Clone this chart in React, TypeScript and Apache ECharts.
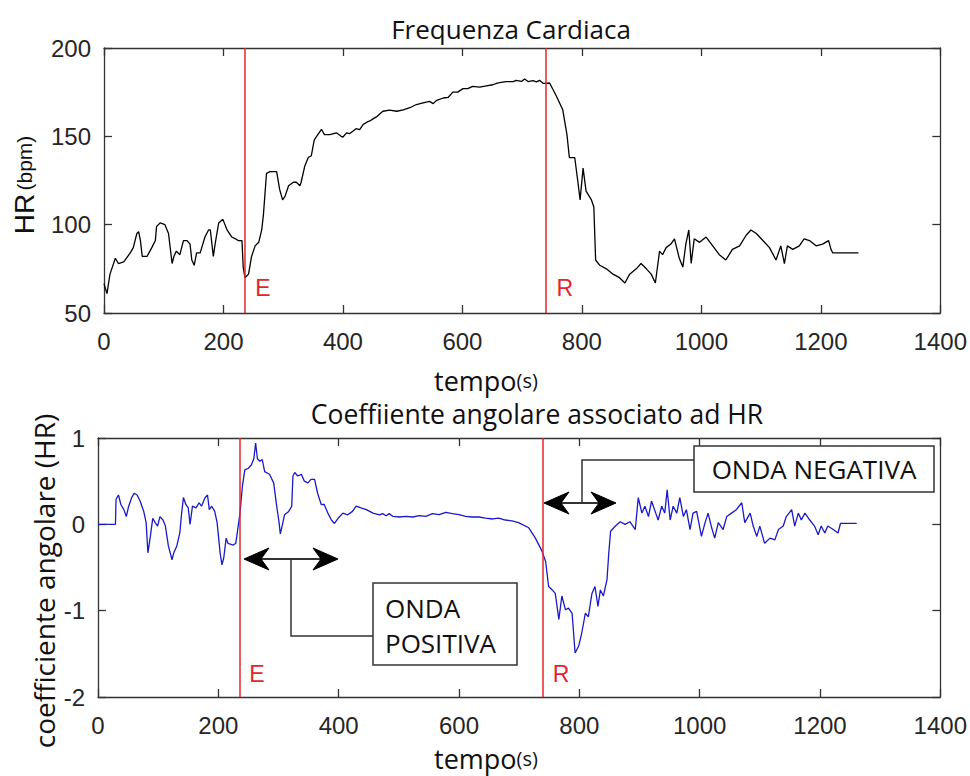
import React, { useEffect, useRef } from "react";
import * as echarts from "echarts";

// ---------- data ----------
const xTickValues = [0, 200, 400, 600, 800, 1000, 1200, 1400];

const hrTime = [0, 5, 10, 19, 24, 33, 44, 49, 55, 58, 61, 64, 72, 80, 86, 88, 94, 102, 108, 114, 117, 121, 127, 133, 139, 144, 147, 151, 155, 161, 169, 175, 178, 183, 186, 192, 199, 206, 214, 220, 225, 231, 233, 236, 242, 247, 253, 259, 264, 267, 272, 278, 289, 294, 299, 303, 309, 317, 322, 328, 330, 336, 342, 347, 352, 358, 364, 369, 378, 389, 397, 400, 406, 411, 417, 422, 428, 434, 440, 445, 451, 456, 462, 467, 478, 490, 501, 512, 523, 534, 545, 551, 557, 568, 576, 584, 592, 601, 609, 617, 629, 640, 651, 657, 662, 673, 685, 690, 699, 704, 710, 718, 724, 729, 735, 740, 746, 757, 768, 775, 779, 788, 793, 797, 802, 807, 816, 820, 823, 830, 841, 852, 863, 872, 880, 891, 899, 908, 916, 923, 930, 935, 941, 949, 955, 963, 969, 974, 979, 983, 988, 997, 1008, 1019, 1030, 1041, 1052, 1064, 1075, 1083, 1092, 1103, 1114, 1125, 1133, 1139, 1144, 1153, 1164, 1172, 1181, 1192, 1203, 1213, 1217, 1220, 1263];
const hrValue = [66.6, 61, 72, 81, 78, 79, 84, 87, 95, 96, 91, 82, 82, 87, 91, 99, 101, 100, 95, 78, 82, 85, 83, 91, 91, 89, 80, 77, 84, 84, 93, 97, 97, 82, 89, 101, 103, 97, 93, 92, 91, 91, 76, 70, 72, 82, 88, 90, 97, 106, 129, 130, 130, 120, 114, 116, 122, 124, 124, 122, 124, 133, 138, 139, 148, 151, 154, 151, 151, 152, 150, 149.6, 152, 151.5, 153, 154.3, 153.8, 156.8, 158, 158.7, 160, 161, 162.8, 164.2, 164.8, 164.2, 165, 166.2, 168, 168.9, 169.8, 168.5, 170.4, 171.7, 172, 175, 175, 177, 177, 178.3, 177.8, 178.6, 179.2, 180, 180.4, 181, 181, 181.7, 181.1, 182.5, 181, 181.5, 180.8, 181.7, 180, 180, 180.2, 173, 165, 151, 138, 138, 125, 114, 132, 119, 114, 110, 80, 77, 75, 72, 70, 67, 72, 75, 78, 75, 72, 67, 85, 83, 87, 89, 92, 81, 76, 89, 97, 78, 92, 90, 93, 88, 83, 80, 86, 88, 94, 97, 95, 91, 87, 80, 88, 78, 88, 86, 88, 92, 91, 88, 89, 91, 86, 84, 84];

const slopeTime = [0, 29, 30, 34, 38, 43, 47, 51, 56, 60, 65, 70, 76, 80, 83, 87, 91, 95, 99, 103, 108, 112, 117, 123, 126, 131, 136, 139, 142, 146, 150, 153, 157, 163, 168, 172, 178, 182, 185, 189, 194, 198, 203, 206, 209, 213, 216, 225, 229, 233, 236, 240, 244, 250, 255, 259, 262, 265, 269, 273, 277, 285, 292, 297, 301, 303, 306, 310, 317, 322, 324, 327, 332, 338, 343, 349, 354, 360, 365, 371, 376, 382, 388, 393, 399, 407, 415, 423, 429, 437, 446, 457, 468, 473, 479, 484, 490, 501, 512, 523, 534, 545, 556, 567, 578, 589, 600, 611, 622, 633, 644, 656, 666, 677, 688, 699, 716, 727, 738, 744, 749, 755, 760, 766, 771, 777, 782, 788, 793, 799, 804, 810, 815, 821, 826, 831, 835, 840, 846, 849, 852, 860, 868, 876, 884, 893, 898, 904, 909, 915, 920, 926, 931, 937, 942, 946, 951, 956, 962, 967, 973, 978, 984, 989, 995, 1003, 1009, 1014, 1020, 1025, 1031, 1039, 1045, 1053, 1061, 1070, 1075, 1084, 1089, 1095, 1100, 1108, 1117, 1125, 1131, 1139, 1144, 1153, 1158, 1164, 1169, 1175, 1183, 1191, 1197, 1202, 1208, 1213, 1222, 1230, 1234, 1261];
const slopeValue = [0, 0, 0.29, 0.34, 0.23, 0.17, 0.09, 0.21, 0.31, 0.36, 0.34, 0.27, 0.15, 0.02, -0.33, -0.14, 0.07, 0.02, -0.02, 0.09, 0.05, -0.02, -0.25, -0.41, -0.33, -0.25, -0.1, 0.13, 0.31, 0.23, 0.19, 0.0, 0.21, 0.19, 0.25, 0.21, 0.31, 0.34, 0.17, 0.21, 0.15, 0.02, -0.33, -0.47, -0.39, -0.16, -0.22, -0.24, -0.22, -0.02, 0.13, 0.44, 0.63, 0.65, 0.69, 0.76, 0.94, 0.76, 0.73, 0.75, 0.61, 0.58, 0.48, 0.21, 0.02, -0.11, -0.02, 0.11, 0.15, 0.21, 0.56, 0.6, 0.56, 0.58, 0.5, 0.48, 0.52, 0.52, 0.36, 0.23, 0.23, 0.13, 0.05, 0.01, 0.07, 0.13, 0.11, 0.15, 0.21, 0.19, 0.17, 0.13, 0.11, 0.124, 0.1, 0.124, 0.093, 0.085, 0.093, 0.085, 0.1, 0.093, 0.124, 0.112, 0.139, 0.124, 0.112, 0.093, 0.085, 0.085, 0.073, 0.062, 0.073, 0.05, 0.04, 0.02, -0.04, -0.16, -0.31, -0.43, -0.72, -0.76, -0.8, -1.1, -0.83, -0.99, -0.97, -1.03, -1.49, -1.41, -1.26, -1.03, -1.07, -0.8, -0.72, -0.95, -0.76, -0.83, -0.64, -0.33, -0.08, -0.02, 0.03, 0.0, 0.03, -0.06, 0.31, 0.13, 0.21, 0.09, 0.27, 0.15, 0.05, 0.21, 0.13, 0.4, 0.05, 0.21, 0.13, 0.31, 0.09, 0.17, -0.06, 0.13, 0.15, -0.14, 0.02, 0.13, -0.04, -0.16, 0.02, -0.06, 0.09, 0.13, 0.17, 0.25, 0.02, 0.13, -0.02, -0.14, -0.02, -0.22, -0.16, -0.18, -0.06, -0.02, 0.09, 0.17, -0.02, 0.13, 0.05, 0.13, 0.05, -0.02, -0.12, -0.02, -0.1, -0.02, -0.06, -0.1, 0.01, 0.01];

const eventTimes = [235, 739];
const eventLabels = ["E", "R"];

const topTitle = "Frequenza Cardiaca";
const bottomTitle = "Coeffiiente angolare associato ad HR";
const positiveLabel = ["ONDA", "POSITIVA"];
const negativeLabel = "ONDA NEGATIVA";

// ---------- layout ----------
const W = 970;
const H = 776;
const G1 = { left: 104, top: 48, width: 839, height: 265 };
const G2 = { left: 98, top: 438, width: 845, height: 259 };
const X_MAX = 1400;
const AX = "#333333";
const TICK_FONT = "Liberation Sans";
const TITLE_FONT = "Open Sans";

function xPix(g: typeof G1, t: number) {
  return g.left + (t / X_MAX) * g.width;
}

function boxAxes(gridIndex: number, isX: boolean, main: boolean, min: number, max: number, interval: number) {
  const base: any = {
    type: "value",
    gridIndex,
    min,
    max,
    interval,
    splitLine: { show: false },
    axisLine: { show: true, onZero: false, lineStyle: { color: AX, width: 1.3 } },
    axisTick: { show: true, inside: true, length: 8, lineStyle: { color: AX, width: 1.3 } },
    axisLabel: {
      show: main,
      fontFamily: TICK_FONT,
      fontSize: 24,
      color: "#262626",
      margin: isX ? 16 : 13,
      formatter: (v: number) => String(v),
    },
  };
  if (isX) base.position = main ? "bottom" : "top";
  else base.position = main ? "left" : "right";
  return base;
}

function arrowGraphics(x0: number, x1: number, y: number) {
  const hl = 25;
  const hw = 11;
  const notch = 17;
  return [
    {
      type: "line",
      shape: { x1: x0 + notch, y1: y, x2: x1 - notch, y2: y },
      style: { stroke: "#333", lineWidth: 2 },
    },
    {
      type: "polygon",
      shape: { points: [[x0, y], [x0 + hl, y - hw], [x0 + notch, y], [x0 + hl, y + hw]] },
      style: { fill: "#000", stroke: "#000", lineWidth: 1 },
    },
    {
      type: "polygon",
      shape: { points: [[x1, y], [x1 - hl, y - hw], [x1 - notch, y], [x1 - hl, y + hw]] },
      style: { fill: "#000", stroke: "#000", lineWidth: 1 },
    },
  ];
}

function txt(x: number, y: number, text: string, size: number, family: string, fill: string, align = "center", extra: any = {}) {
  return {
    type: "text",
    x,
    y,
    z: 100,
    ...extra,
    style: {
      text,
      fontSize: size,
      fontFamily: family,
      fill,
      align,
      textAlign: align,
      verticalAlign: "middle",
      textVerticalAlign: "middle",
    },
  };
}

export default function App() {
  const ref = useRef<HTMLDivElement>(null);

  useEffect(() => {
    if (!ref.current) return;
    const chart = echarts.init(ref.current, null, { renderer: "svg", width: W, height: H });

    const hrData = hrTime.map((t, i) => [t, hrValue[i]]);
    const slopeData = slopeTime.map((t, i) => [t, slopeValue[i]]);
    const eventLine = {
      silent: true,
      symbol: ["none", "none"],
      label: { show: false },
      lineStyle: { color: "#e3262b", width: 1.5, type: "solid" },
      emphasis: { disabled: true },
      data: eventTimes.map((t) => ({ xAxis: t })),
    };

    const tempoRich = {
      a: { fontSize: 27, fontFamily: TITLE_FONT, fill: "#111", color: "#111" },
      b: { fontSize: 20, fontFamily: TITLE_FONT, fill: "#111", color: "#111" },
    };
    const tempoStyle = { text: "{a|tempo}{b|(s)}", rich: tempoRich, align: "center", textAlign: "center", verticalAlign: "middle", textVerticalAlign: "middle" };

    const graphics: any[] = [
      txt(511, 29, topTitle, 26, TITLE_FONT, "#111"),
      txt(537, 414, bottomTitle, 26.5, TITLE_FONT, "#111"),
      { type: "text", x: 486, y: 380, z: 100, style: tempoStyle },
      { type: "text", x: 486, y: 758, z: 100, style: tempoStyle },
      {
        type: "text",
        x: 24,
        y: 185,
        rotation: Math.PI / 2,
        z: 100,
        style: {
          text: "{a|HR} {b|(bpm)}",
          rich: {
            a: { fontSize: 28, fontFamily: TICK_FONT, fill: "#111", color: "#111" },
            b: { fontSize: 21, fontFamily: TICK_FONT, fill: "#111", color: "#111" },
          },
          align: "center",
          textAlign: "center",
          verticalAlign: "middle",
          textVerticalAlign: "middle",
        },
      },
      txt(44, 581, "coefficiente angolare (HR)", 28, TITLE_FONT, "#111", "center", { rotation: Math.PI / 2 }),
    ];

    eventTimes.forEach((t, i) => {
      graphics.push(txt(xPix(G1, t) + 18, G1.top + G1.height - 25, eventLabels[i], 23, TICK_FONT, "#e3262b"));
      graphics.push(txt(xPix(G2, t) + 17, G2.top + G2.height - 23, eventLabels[i], 23, TICK_FONT, "#e3262b"));
    });

    // ONDA POSITIVA annotation
    graphics.push(...arrowGraphics(244, 338, 559));
    graphics.push({ type: "polyline", shape: { points: [[291, 559], [291, 636], [373, 636]] }, style: { stroke: "#333", lineWidth: 1.5, fill: "none" } });
    graphics.push({ type: "rect", shape: { x: 373, y: 583, width: 144, height: 82 }, style: { fill: "#fff", stroke: "#333", lineWidth: 1.5 } });
    graphics.push(txt(385, 608, positiveLabel[0], 26, TITLE_FONT, "#111", "left"));
    graphics.push(txt(385, 643, positiveLabel[1], 26, TITLE_FONT, "#111", "left"));

    // ONDA NEGATIVA annotation
    graphics.push(...arrowGraphics(544, 616, 503));
    graphics.push({ type: "polyline", shape: { points: [[582, 503], [582, 460], [694, 460]] }, style: { stroke: "#333", lineWidth: 1.5, fill: "none" } });
    graphics.push({ type: "rect", shape: { x: 694, y: 446, width: 240, height: 46 }, style: { fill: "#fff", stroke: "#333", lineWidth: 1.5 } });
    graphics.push(txt(814, 469, negativeLabel, 26, TITLE_FONT, "#111"));

    chart.setOption({
      animation: false,
      backgroundColor: "#fff",
      grid: [
        { ...G1, containLabel: false },
        { ...G2, containLabel: false },
      ],
      xAxis: [
        boxAxes(0, true, true, xTickValues[0], xTickValues[xTickValues.length - 1], 200),
        boxAxes(0, true, false, 0, X_MAX, 200),
        boxAxes(1, true, true, xTickValues[0], xTickValues[xTickValues.length - 1], 200),
        boxAxes(1, true, false, 0, X_MAX, 200),
      ],
      yAxis: [
        boxAxes(0, false, true, 50, 200, 50),
        boxAxes(0, false, false, 50, 200, 50),
        boxAxes(1, false, true, -2, 1, 1),
        boxAxes(1, false, false, -2, 1, 1),
      ],
      series: [
        {
          type: "line",
          xAxisIndex: 0,
          yAxisIndex: 0,
          data: hrData,
          showSymbol: false,
          symbol: "none",
          lineStyle: { color: "#000", width: 1.3 },
          markLine: eventLine,
          z: 3,
        },
        {
          type: "line",
          xAxisIndex: 2,
          yAxisIndex: 2,
          data: slopeData,
          showSymbol: false,
          symbol: "none",
          lineStyle: { color: "#1a1ac8", width: 1.3 },
          markLine: eventLine,
          z: 3,
        },
      ],
      graphic: graphics,
    });

    return () => chart.dispose();
  }, []);

  return <div ref={ref} style={{ position: "fixed", left: 0, top: 0, width: W, height: H, background: "#fff" }} />;
}
